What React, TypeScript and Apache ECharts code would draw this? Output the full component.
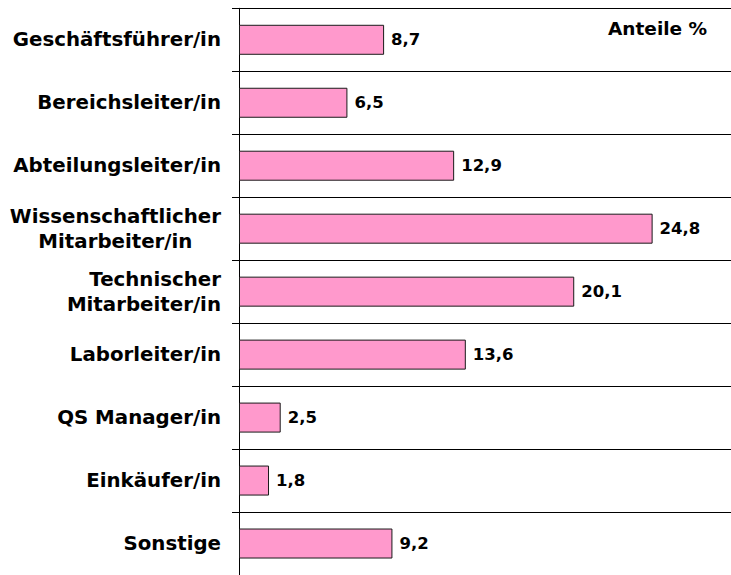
import React, { useEffect, useRef } from "react";
import * as echarts from "echarts";

const categories = [
  "Geschäftsführer/in",
  "Bereichsleiter/in",
  "Abteilungsleiter/in",
  "Wissenschaftlicher\nMitarbeiter/in",
  "Technischer\nMitarbeiter/in",
  "Laborleiter/in",
  "QS Manager/in",
  "Einkäufer/in",
  "Sonstige",
];
const shares = [8.7, 6.5, 12.9, 24.8, 20.1, 13.6, 2.5, 1.8, 9.2];
const unitLabel = "Anteile %";

export default function App() {
  const ref = useRef<HTMLDivElement>(null);
  useEffect(() => {
    if (!ref.current) return;
    const chart = echarts.init(ref.current, null, { renderer: "svg" });
    const labelFont = "DejaVu Sans";
    chart.setOption({
      animation: false,
      backgroundColor: "#ffffff",
      title: {
        text: unitLabel,
        left: 608,
        top: 19,
        padding: 0,
        textStyle: { fontFamily: labelFont, fontWeight: "bold", fontSize: 18.5, color: "#000" },
      },
      grid: { left: 239, right: 0, top: 8.3, height: 570.6, containLabel: false },
      xAxis: {
        type: "value",
        min: 0,
        max: 29.5,
        show: false,
        splitLine: { show: false },
      },
      yAxis: {
        type: "category",
        inverse: true,
        data: categories,
        axisLine: { show: true, lineStyle: { color: "#000", width: 1 } },
        axisTick: { show: true, length: 7, inside: false, lineStyle: { color: "#000", width: 1 } },
        splitLine: { show: true, lineStyle: { color: "#000", width: 1 } },
        axisLabel: {
          margin: 18,
          color: "#000",
          fontFamily: labelFont,
          fontWeight: "bold",
          fontSize: 19.8,
          lineHeight: 25,
          formatter: (v: string) => {
            if (v.startsWith("Wissenschaftlicher")) {
              return v
                .split("\n")
                .map((s) => "{c|" + s + "}")
                .join("\n");
            }
            return v;
          },
          rich: {
            c: {
              align: "center",
              fontFamily: labelFont,
              fontWeight: "bold",
              fontSize: 19.8,
              lineHeight: 25,
              color: "#000",
            },
          },
        },
      },
      series: [
        {
          type: "bar",
          data: shares,
          barWidth: 30,
          itemStyle: { color: "#FF99CC", borderColor: "#1a1a1a", borderWidth: 1 },
          label: {
            show: true,
            position: "right",
            distance: 7,
            color: "#000",
            fontFamily: labelFont,
            fontWeight: "bold",
            fontSize: 16.5,
            formatter: (p: any) => String(p.value).replace(".", ","),
          },
        },
      ],
    });
    return () => chart.dispose();
  }, []);
  return (
    <div
      ref={ref}
      style={{ position: "absolute", left: 0, top: 0, width: 731, height: 575 }}
    />
  );
}
